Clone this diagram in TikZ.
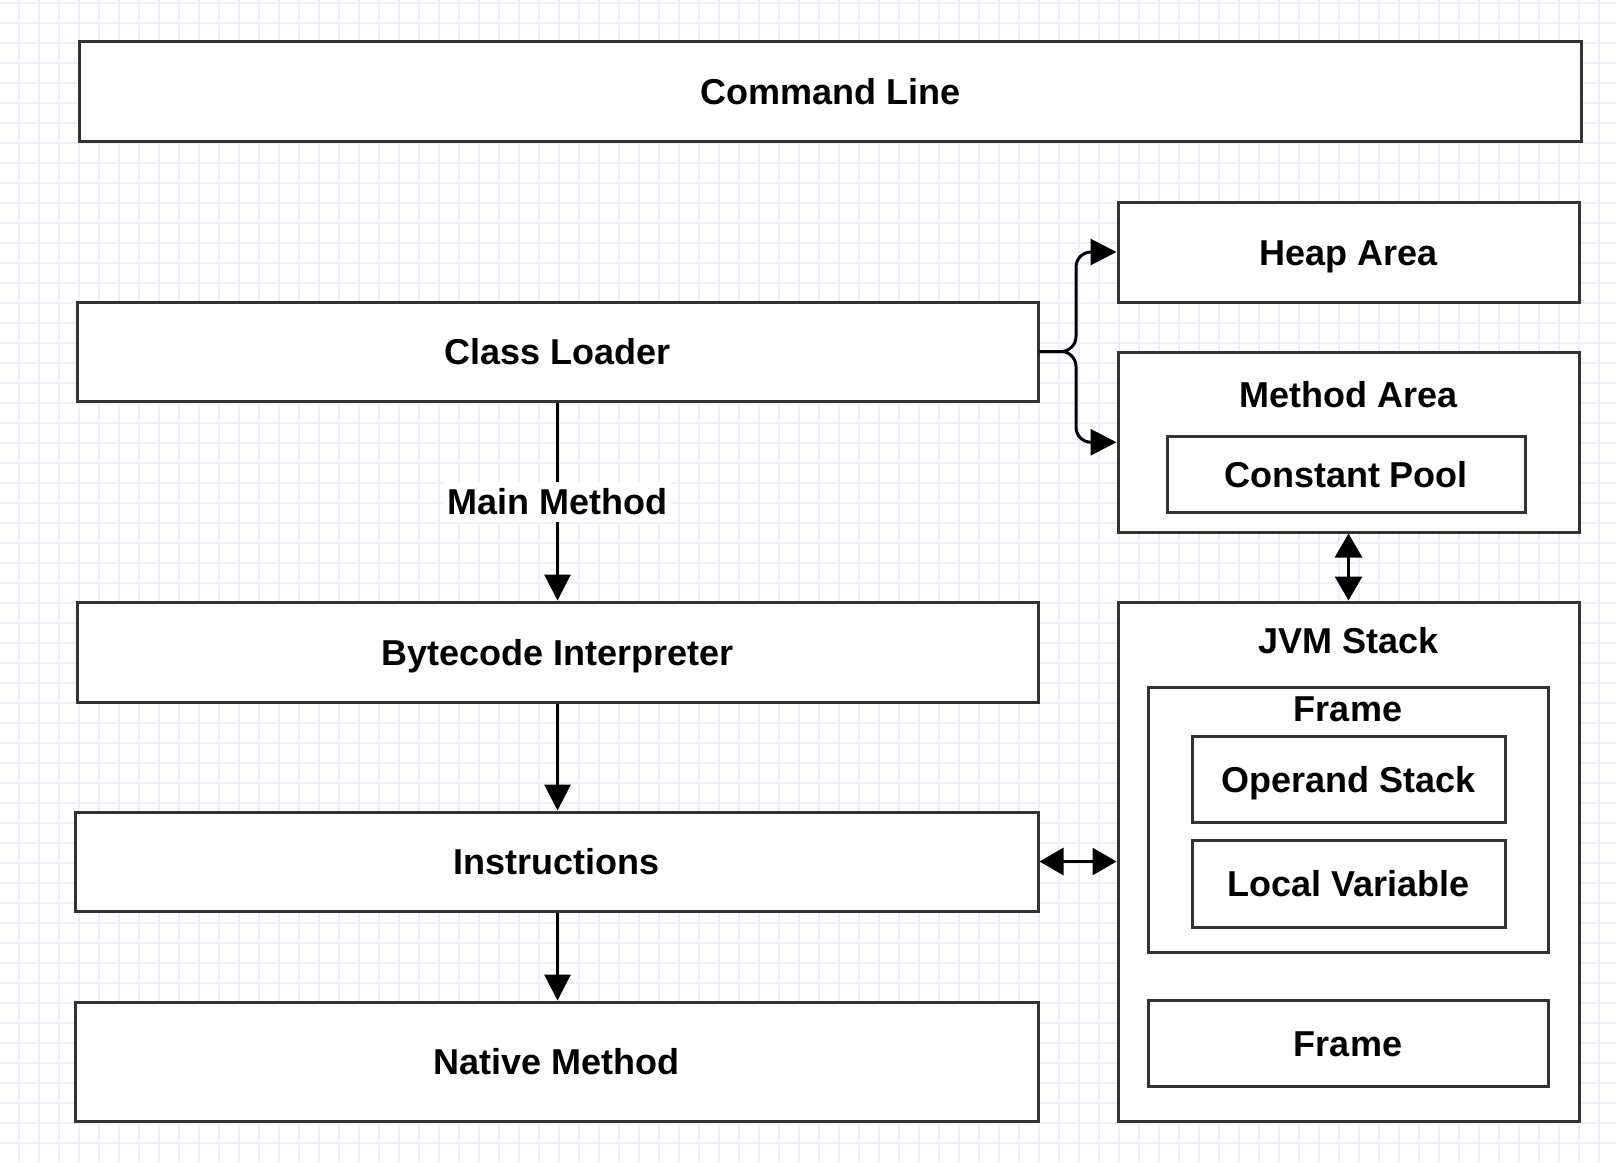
\documentclass[tikz,border=0pt]{standalone}
\usepackage{fontspec}
\setmainfont{Liberation Sans}
\usetikzlibrary{arrows.meta,calc}
\definecolor{gridc}{RGB}{238,238,252}
\definecolor{edgec}{RGB}{51,51,51}
\begin{document}
\begin{tikzpicture}[x=1pt,y=-1pt,
  txt/.style={font=\fontsize{36}{43}\selectfont\bfseries,text height=26pt,text depth=0pt},
  box/.style={txt,draw=edgec,line width=3pt,fill=white,inner sep=0pt},
  ttl/.style={txt,inner sep=0pt},
  conn/.style={draw=black,line width=3pt,-{Triangle[length=26pt,width=26pt]}},
  dconn/.style={draw=black,line width=3pt,{Triangle[length=24pt,width=27pt]}-{Triangle[length=24pt,width=27pt]}},
  gridline/.style={draw=gridc,line width=1.5pt}]
\useasboundingbox (0,0) rectangle (1616,1162);
\fill[white] (0,0) rectangle (1616,1162);
\foreach \x in {19,39,...,1616} \draw[gridline] (\x,0) -- (\x,1162);
\foreach \y in {3,23,...,1162} \draw[gridline] (0,\y) -- (1616,\y);

\node[box,minimum width=1502pt,minimum height=100pt] (cmd) at (830.75,91.5) {Command Line};
\node[box,minimum width=461pt,minimum height=100pt] (heap) at (1348.5,252) {Heap Area};
\node[box,minimum width=961pt,minimum height=99pt] (cl) at (557.5,351.5) {Class Loader};
\node[box,minimum width=461pt,minimum height=179.5pt] (ma) at (1348.5,442.25) {};
\node[ttl] (maT) at (1348.5,394) {Method Area};
\node[box,minimum width=358pt,minimum height=76pt] (cp) at (1346,474) {Constant Pool};
\node[box,minimum width=961pt,minimum height=100pt] (bi) at (557.5,652) {Bytecode Interpreter};
\node[box,minimum width=461pt,minimum height=519pt] (jvm) at (1348.5,861.5) {};
\node[ttl] (jvmT) at (1348.5,640) {JVM Stack};
\node[box,minimum width=400pt,minimum height=265pt] (fr1) at (1348,819.5) {};
\node[ttl] (fr1T) at (1348,708) {Frame};
\node[box,minimum width=313pt,minimum height=86pt] (os) at (1348.5,779) {Operand Stack};
\node[box,minimum width=313pt,minimum height=87pt] (lv) at (1348.5,883.5) {Local Variable};
\node[box,minimum width=400pt,minimum height=86pt] (fr2) at (1348,1043) {Frame};
\node[box,minimum width=963pt,minimum height=99pt] (ins) at (556.5,861.5) {Instructions};
\node[box,minimum width=963pt,minimum height=119pt] (nm) at (556.5,1061.5) {Native Method};

\draw[conn] (cl.south -| 557.5,0) -- node[ttl,fill=white,inner xsep=4pt,inner ysep=7pt] (mm) {Main Method} (bi.north -| 557.5,0);
\draw[conn] (bi.south -| 557.5,0) -- (ins.north -| 557.5,0);
\draw[conn] (ins.south -| 557.5,0) -- (nm.north -| 557.5,0);
\draw[dconn] (ins.east) -- (ins.east -| jvm.west);
\draw[dconn] (ma.south) -- (jvm.north);
\draw[conn,rounded corners=15pt] (cl.east) -- (1076,351.5) -- (1076,252) -- (heap.west);
\draw[conn,rounded corners=15pt] (cl.east) -- (1076,351.5) -- (1076,442.25) -- (ma.west);
\end{tikzpicture}
\end{document}
